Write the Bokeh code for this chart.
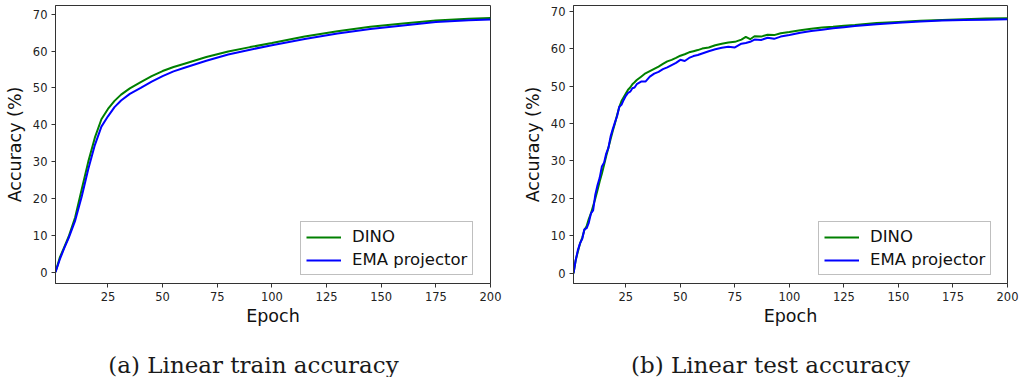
from bokeh.plotting import figure
from bokeh.layouts import row, column
from bokeh.models import Range1d, FixedTicker
from bokeh.core.properties import value
from bokeh.embed import file_html
from bokeh.resources import INLINE

# Linear-probe train accuracy (%) per epoch
train_epochs = [1, 3, 5, 7, 10, 13, 16, 19, 22, 25, 28, 31, 35, 40, 45, 50, 55, 60,
                70, 80, 90, 100, 115, 130, 145, 160, 175, 190, 200]
train_dino = [0.0, 4.0, 6.8, 9.6, 14.9, 22.5, 30.0, 36.5, 41.5, 44.3, 46.5, 48.2, 49.9,
              51.6, 53.2, 54.6, 55.7, 56.6, 58.4, 59.9, 61.1, 62.2, 64.0, 65.4, 66.6,
              67.5, 68.3, 68.8, 69.0]
train_ema = [0.0, 3.5, 6.5, 9.2, 14.0, 20.5, 28.0, 34.5, 39.5, 42.3, 44.8, 46.6, 48.4,
             50.0, 51.7, 53.2, 54.5, 55.5, 57.4, 59.1, 60.4, 61.6, 63.3, 64.8, 66.0,
             67.0, 67.9, 68.4, 68.6]

# Linear-probe test accuracy (%) per epoch
test_epochs = [1, 2, 3, 4, 5, 6, 7, 8, 9, 10, 11, 12, 13, 14, 15, 16, 17, 18, 19, 20,
               21, 22, 23, 24, 25, 26, 27, 28, 29, 30, 32, 34, 36, 38, 40, 42, 44, 46,
               48, 50, 52, 54, 56, 58, 60, 63, 66, 69, 72, 75, 78, 80, 82, 84, 87, 90,
               93, 96, 100, 105, 110, 115, 120, 125, 130, 140, 150, 160, 170, 180, 190, 200]
test_dino = [0.0, 3.5, 5.8, 8.0, 9.5, 11.6, 12.6, 14.5, 16.0, 18.0, 20.0, 22.2, 24.5,
             26.6, 28.9, 31.3, 33.5, 35.8, 38.0, 40.0, 42.3, 44.4, 46.0, 47.0, 48.0,
             49.0, 49.6, 50.5, 51.0, 51.6, 52.5, 53.4, 54.0, 54.6, 55.2, 55.9, 56.6,
             57.0, 57.5, 58.1, 58.5, 59.0, 59.3, 59.6, 60.0, 60.3, 60.9, 61.3, 61.6,
             61.8, 62.4, 63.1, 62.5, 63.3, 63.2, 63.7, 63.6, 64.1, 64.4, 64.9, 65.3,
             65.6, 65.8, 66.1, 66.3, 66.8, 67.1, 67.4, 67.6, 67.8, 68.0, 68.1]
test_ema = [0.0, 3.5, 6.2, 8.0, 9.2, 11.8, 12.0, 13.5, 16.0, 16.8, 21.0, 23.5, 25.5,
            28.5, 29.5, 32.0, 33.5, 36.5, 38.5, 40.3, 42.0, 44.5, 45.0, 46.3, 47.4,
            48.2, 48.5, 49.4, 49.6, 50.5, 51.2, 51.2, 52.5, 53.3, 53.8, 54.5, 55.0,
            55.6, 56.2, 57.0, 56.7, 57.5, 58.0, 58.3, 58.7, 59.3, 59.8, 60.2, 60.5,
            60.3, 61.3, 61.5, 61.8, 62.4, 62.3, 62.9, 62.6, 63.2, 63.6, 64.2, 64.7,
            65.0, 65.4, 65.7, 66.0, 66.5, 66.9, 67.2, 67.5, 67.6, 67.7, 67.8]

x_ticks = [25, 50, 75, 100, 125, 150, 175, 200]
y_ticks = [0, 10, 20, 30, 40, 50, 60, 70]
series_names = ["DINO", "EMA projector"]
series_colors = ["#008000", "#0000ff"]
x_label = "Epoch"
y_label = "Accuracy (%)"
caption_train = "(a) Linear train accuracy"
caption_test = "(b) Linear test accuracy"

PLOT_H = 330      # chart area height
CAP_H = 47        # caption strip height
FRAME_TOP = 5
FRAME_BOTTOM = 283


def make_panel(epochs, dino, ema, width, border_left, border_right, y_lo, y_hi):
    p = figure(width=width, height=PLOT_H, output_backend="svg", toolbar_location=None,
               x_range=Range1d(1, 200), y_range=Range1d(y_lo, y_hi),
               min_border_left=border_left, min_border_right=border_right,
               min_border_top=FRAME_TOP, min_border_bottom=PLOT_H - FRAME_BOTTOM,
               background_fill_color="white", border_fill_color="white")
    for vals, name, col in zip([dino, ema], series_names, series_colors):
        p.line(epochs, vals, color=col, line_width=2, legend_label=name)

    p.xgrid.visible = False
    p.ygrid.visible = False
    p.outline_line_color = "#333333"
    p.outline_line_width = 1

    p.xaxis.ticker = FixedTicker(ticks=x_ticks)
    p.yaxis.ticker = FixedTicker(ticks=y_ticks)
    for ax in (p.xaxis[0], p.yaxis[0]):
        ax.axis_line_color = "#333333"
        ax.major_tick_line_color = "#333333"
        ax.major_tick_in = 0
        ax.major_tick_out = 4
        ax.minor_tick_line_color = None
        ax.major_label_text_font = "DejaVu Sans"
        ax.major_label_text_font_size = "11.5px"
        ax.major_label_text_color = "#222222"
        ax.major_label_standoff = 4
        ax.axis_label_text_font = "DejaVu Sans"
        ax.axis_label_text_font_size = "17.5px"
        ax.axis_label_text_font_style = "normal"
        ax.axis_label_text_color = "#111111"
    p.xaxis.axis_label = x_label
    p.yaxis.axis_label = y_label
    p.xaxis.axis_label_standoff = 2
    p.yaxis.axis_label_standoff = 5

    lg = p.legend[0]
    lg.location = (245, 8)
    lg.border_line_color = "#808080"
    lg.border_line_width = 1
    lg.background_fill_color = "white"
    lg.background_fill_alpha = 1.0
    lg.label_text_font = "DejaVu Sans"
    lg.label_text_font_size = "16.5px"
    lg.label_text_color = "#111111"
    lg.glyph_width = 35
    lg.glyph_height = 18
    lg.label_height = 18
    lg.label_standoff = 11
    lg.padding = 5
    lg.spacing = 4
    lg.margin = 0
    return p


def make_caption(text, width, center_x):
    c = figure(width=width, height=CAP_H, output_backend="svg", toolbar_location=None,
               x_range=Range1d(0, width), y_range=Range1d(0, CAP_H),
               min_border=0, border_fill_color="white", background_fill_color="white")
    c.axis.visible = False
    c.grid.visible = False
    c.outline_line_color = None
    c.text(x=[center_x], y=[13], text=[text], text_align="center",
           text_baseline="alphabetic", text_font=value("DejaVu Serif"),
           text_font_size="23px", text_color="#1a1a1a")
    return c


left = make_panel(train_epochs, train_dino, train_ema, 510, 55, 20, -3.1, 72.4)
right = make_panel(test_epochs, test_dino, test_ema, 511, 63, 14, -2.7, 71.5)
cap_left = make_caption(caption_train, 510, 253)
cap_right = make_caption(caption_test, 511, 260)

layout = column(row(left, right, spacing=0), row(cap_left, cap_right, spacing=0), spacing=0)
open("out.html", "w").write(file_html(layout, INLINE))
